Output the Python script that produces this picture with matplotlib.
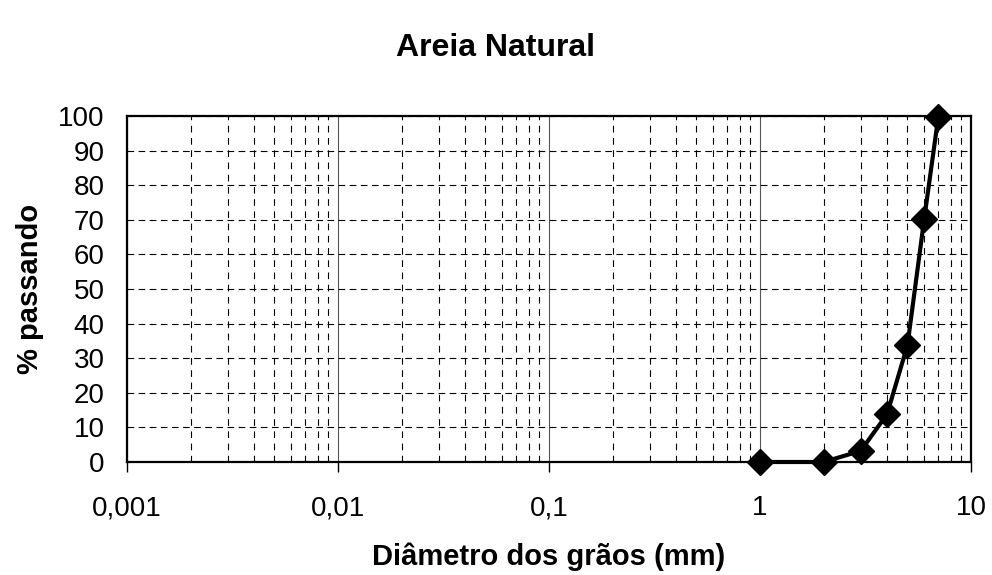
import matplotlib
matplotlib.use('Agg')
import matplotlib.pyplot as plt
from matplotlib.ticker import LogLocator, FixedLocator, FixedFormatter, NullFormatter, MultipleLocator

plt.rcParams['font.family'] = ['Liberation Sans', 'DejaVu Sans']

# grain size (mm) and percent passing
diametro = [1, 2, 3, 4, 5, 6, 7]
passando = [0, 0, 3.2, 13.8, 33.8, 70.2, 99.8]

x_ticks = [0.001, 0.01, 0.1, 1, 10]
x_labels = ['0,001', '0,01', '0,1', '1', '10']

fig = plt.figure(figsize=(9.92, 5.75), dpi=100)
ax = fig.add_axes([127 / 992, 1 - 462 / 575, (971 - 127) / 992, (462 - 116) / 575])

ax.plot(diametro, passando, color='black', lw=3, marker='D', ms=13,
        clip_on=False, zorder=5)

ax.set_xscale('log')
ax.set_xlim(0.001, 10)
ax.set_ylim(0, 100)

ax.xaxis.set_major_locator(FixedLocator(x_ticks))
ax.xaxis.set_major_formatter(FixedFormatter(x_labels))
ax.xaxis.set_minor_locator(LogLocator(base=10, subs=range(2, 10), numticks=20))
ax.xaxis.set_minor_formatter(NullFormatter())
ax.yaxis.set_major_locator(MultipleLocator(10))

ax.tick_params(axis='x', which='major', direction='out', length=7, width=1,
               labelsize=20, pad=17)
ax.tick_params(axis='x', which='minor', length=0)
ax.tick_params(axis='y', length=0, labelsize=20, pad=16)

ax.grid(True, axis='x', which='major', color='#555555', lw=0.8, ls='-')
ax.grid(True, axis='x', which='minor', color='black', lw=0.8, ls=(0, (6, 5)))
ax.grid(True, axis='y', which='major', color='black', lw=0.8, ls=(0, (6, 4)))

for s in ax.spines.values():
    s.set_linewidth(1.6)
    s.set_color('black')

ax.set_xlabel('Diâmetro dos grãos (mm)', fontsize=21, fontweight='bold', labelpad=15)
ax.set_ylabel('% passando', fontsize=21, fontweight='bold', labelpad=10)
fig.text(0.5, 1 - 48 / 575, 'Areia Natural', ha='center', va='center',
         fontsize=23, fontweight='bold')

fig.savefig('out.png', dpi=100)
